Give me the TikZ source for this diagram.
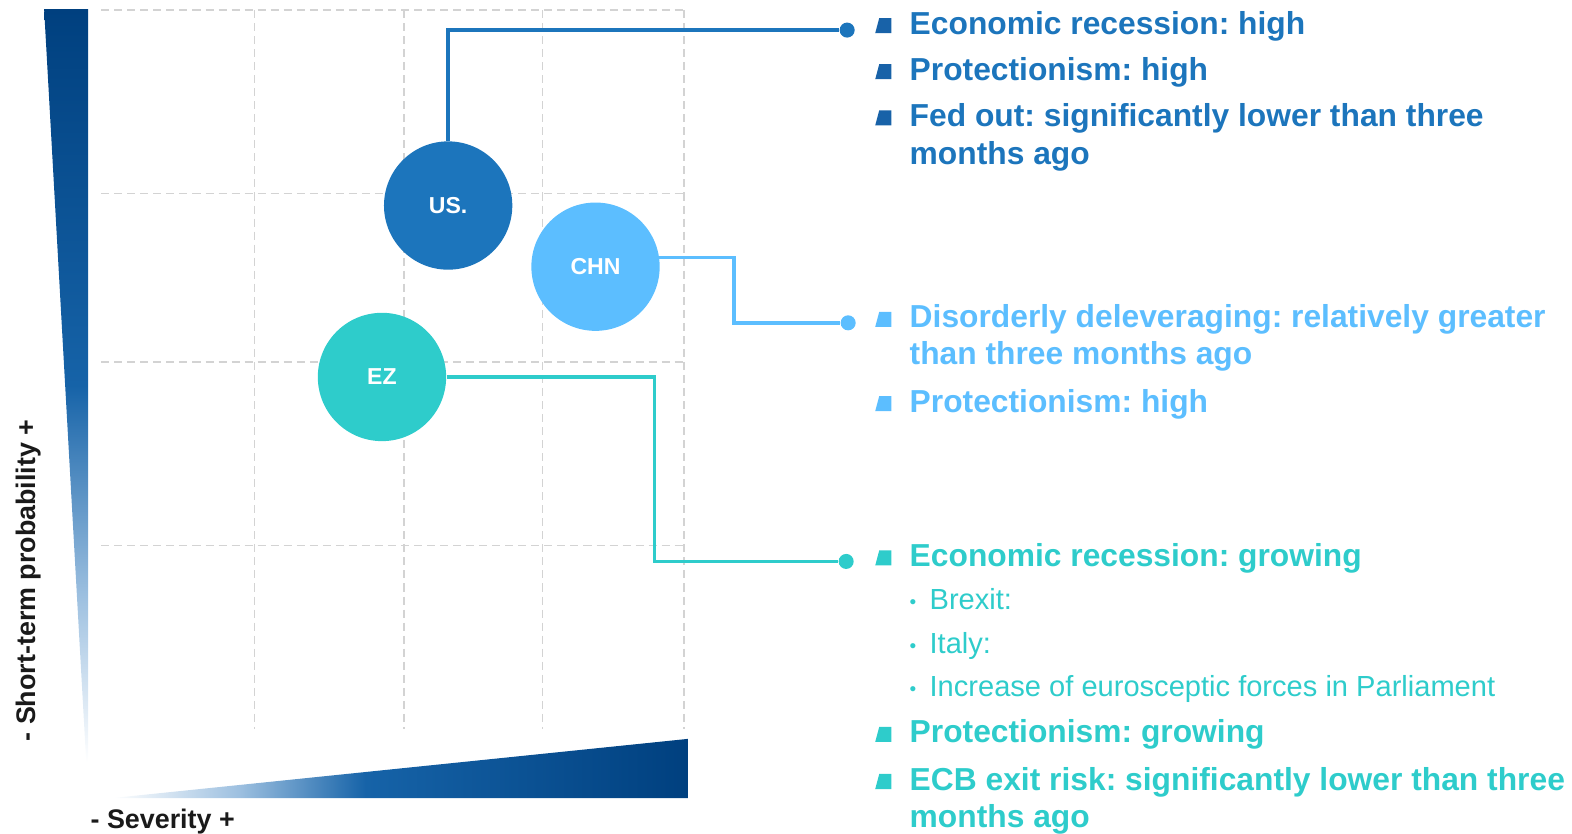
\documentclass[tikz,border=0pt]{standalone}
\usepackage{fontspec}
\setmainfont{Liberation Sans}
\frenchspacing
\definecolor{usblue}{HTML}{1C75BC}
\definecolor{usbul}{HTML}{1862A8}
\definecolor{chnblue}{HTML}{5CBEFF}
\definecolor{ezteal}{HTML}{2ECCCB}
\definecolor{wdark}{HTML}{00407F}
\definecolor{wmid}{HTML}{1663A8}
\definecolor{wlight}{HTML}{9DC0E0}
\definecolor{gridgray}{HTML}{D3D3D3}
\definecolor{axtext}{HTML}{1A1A1A}
\pgfdeclareverticalshading{vwedge}{100bp}{color(0bp)=(white); color(25bp)=(white); color(36bp)=(wlight); color(50bp)=(wmid); color(75bp)=(wdark); color(100bp)=(wdark)}
\pgfdeclarehorizontalshading{hwedge}{100bp}{color(0bp)=(white); color(25bp)=(white); color(36bp)=(wlight); color(47bp)=(wmid); color(75bp)=(wdark); color(100bp)=(wdark)}
\newcommand{\subbul}{{\fontsize{9.5}{9.5}\selectfont\raisebox{0.6pt}{•}}\hspace{6.6pt}}
\tikzset{
  gridline/.style={draw=gridgray, line width=0.75pt, dash pattern=on 4pt off 2.5pt},
  country/.style={circle, inner sep=0pt, minimum size=64pt, text=white, font=\fontsize{11.5}{13}\selectfont\bfseries},
  conn/.style={line width=1.7pt},
  enddot/.style={circle, fill, inner sep=0pt, minimum size=7.5pt},
  txt/.style={anchor=base west, inner sep=0pt, font=\fontsize{15.85}{19}\selectfont\bfseries},
  subtxt/.style={anchor=base west, inner sep=0pt, font=\fontsize{14.5}{17}\selectfont},
  axlabel/.style={inner sep=0pt, text=axtext, font=\fontsize{13.4}{16}\selectfont\bfseries},
  sq/.pic={\fill (4,-16) -- (16,-16) -- (16,-1) -- (0,-1) -- cycle;}
}
\begin{document}
\begin{tikzpicture}[x=0.5pt,y=-0.5pt]
\useasboundingbox (0,0) rectangle (1568,831);
% grid
\foreach \gx in {254,403,541,682} \draw[gridline] (\gx,10) -- (\gx,727);
\foreach \gy in {10,193,361,544} \draw[gridline] (101,\gy) -- (682,\gy);
% axis wedges
\shade[shading=vwedge] (44,9) -- (88,9) -- (88,760) -- (86,760) -- cycle;
\shade[shading=hwedge] (112,796) -- (686,737) -- (686,796) -- cycle;
\node[axlabel, rotate=90] (ylab) at (28,579) {- Short-term probability +};
\node[axlabel, anchor=base west] (xlab) at (90,826) {- Severity +};
% connectors
\coordinate (chnbend) at (732,322);
\coordinate (ezbend) at (653,560);
\node[enddot, usblue] (usdot) at (845,30) {};
\node[enddot, chnblue] (chndot) at (846,322) {};
\node[enddot, ezteal] (ezdot) at (844,560) {};
\node[country, fill=usblue] (us) at (447,205) {US.};
\node[country, fill=chnblue] (chn) at (594,266) {CHN};
\node[country, fill=ezteal] (ez) at (381,376) {EZ};
\draw[conn, usblue] (us.north) |- (usdot);
\draw[conn, chnblue] (chn.8) -| (chnbend) -- (chndot);
\draw[conn, ezteal] (ez.east) -| (ezbend) -- (ezdot);
% US texts
\pic[color=usbul] at (873,34) {sq};
\node[txt, usblue] (u1) at (907,34) {Economic recession: high};
\pic[color=usbul] at (873,80) {sq};
\node[txt, usblue] (u2) at (907,80) {Protectionism: high};
\pic[color=usbul] at (873,126) {sq};
\node[txt, usblue] (u3) at (907,126) {Fed out: significantly lower than three};
\node[txt, usblue] (u4) at (907,164) {months ago};
% CHN texts
\pic[color=chnblue] at (873,327) {sq};
\node[txt, chnblue] (c1) at (907,327) {Disorderly deleveraging: relatively greater};
\node[txt, chnblue] (c2) at (907,364) {than three months ago};
\pic[color=chnblue] at (873,411) {sq};
\node[txt, chnblue] (c3) at (907,411) {Protectionism: high};
% EZ texts
\pic[color=ezteal] at (873,565) {sq};
\node[txt, ezteal] (e1) at (907,565) {Economic recession: growing};
\node[subtxt, ezteal] (e2) at (907,608) {\subbul Brexit:};
\node[subtxt, ezteal] (e3) at (907,652) {\subbul Italy:};
\node[subtxt, ezteal] (e4) at (907,695) {\subbul Increase of eurosceptic forces in Parliament};
\pic[color=ezteal] at (873,741) {sq};
\node[txt, ezteal] (e5) at (907,741) {Protectionism: growing};
\pic[color=ezteal] at (873,788) {sq};
\node[txt, ezteal] (e6) at (907,788) {ECB exit risk: significantly lower than three};
\node[txt, ezteal] (e7) at (907,825) {months ago};
\end{tikzpicture}
\end{document}
